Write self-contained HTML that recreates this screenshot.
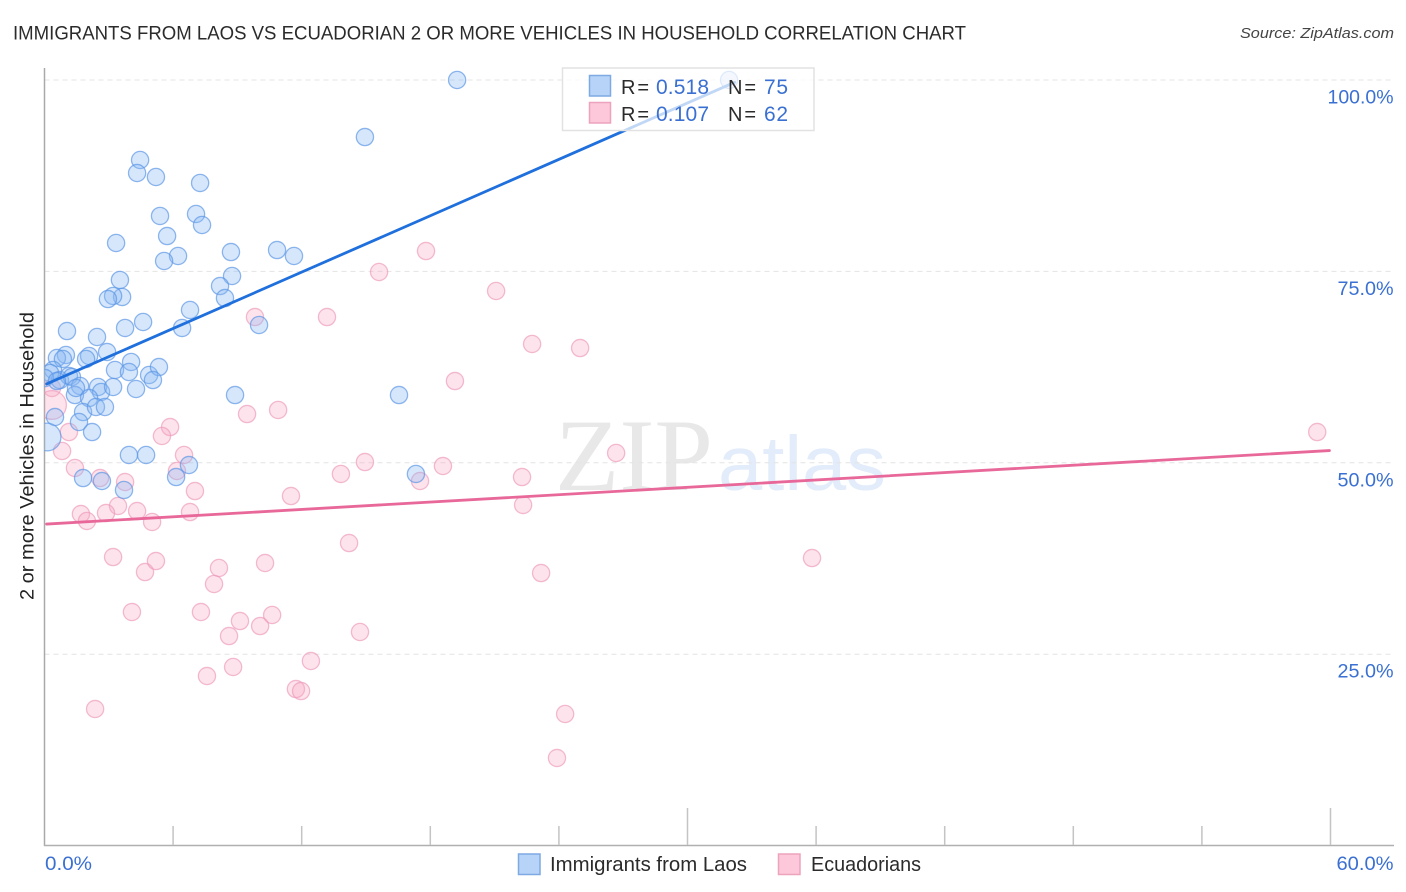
<!DOCTYPE html>
<html lang="en">
<head>
<meta charset="utf-8">
<title>Immigrants from Laos vs Ecuadorian 2 or more Vehicles in Household Correlation Chart</title>
<style>
html,body{margin:0;padding:0;background:#fff;width:1406px;height:892px;overflow:hidden}
svg{display:block}
text{font-family:"Liberation Sans",sans-serif}
</style>
</head>
<body>
<svg id="chart" xmlns="http://www.w3.org/2000/svg" width="1406" height="892" viewBox="0 0 1406 892">
  <defs><clipPath id="plot-clip"><rect x="44.5" y="60" width="1350" height="785"/></clipPath></defs>
  <text x="13" y="39.5" font-size="19.5" fill="#2b2b2b" textLength="953" lengthAdjust="spacingAndGlyphs">IMMIGRANTS FROM LAOS VS ECUADORIAN 2 OR MORE VEHICLES IN HOUSEHOLD CORRELATION CHART</text>
  <text x="1394" y="38" font-size="15" font-style="italic" fill="#444" text-anchor="end" textLength="154" lengthAdjust="spacingAndGlyphs">Source: ZipAtlas.com</text>
  <g>
    <text x="555" y="490" font-size="103" font-weight="400" fill="#e8e8e8" textLength="158" lengthAdjust="spacingAndGlyphs" style="font-family:'Liberation Serif',serif">ZIP</text>
    <text x="718" y="490" font-size="77" fill="#e2ecfa" textLength="168" lengthAdjust="spacingAndGlyphs">atlas</text>
  </g>
  <g id="grid"></g>
  <g id="axes"></g>
  <g clip-path="url(#plot-clip)">
    <g id="pink-points"></g>
    <g id="blue-points"></g>
    <g id="trend-lines"></g>
  </g>
  <g id="tick-labels"></g>
  <text transform="translate(33.5,456) rotate(-90)" font-size="19" fill="#222" text-anchor="middle" textLength="288" lengthAdjust="spacingAndGlyphs">2 or more Vehicles in Household</text>

  <g>
    <rect x="562.5" y="68" width="251.5" height="62.5" fill="#fff" fill-opacity="0.72" stroke="#e2e2e2" stroke-width="1.5"/>
    <rect x="589.5" y="75.5" width="21" height="20.5" fill="#b7d4f8" stroke="#7fa9e2" stroke-width="1.5"/>
    <rect x="589.5" y="102.5" width="21" height="20.5" fill="#fcc8da" stroke="#eda3bd" stroke-width="1.5"/>
    <text x="621" y="94" font-size="20" fill="#2b2b2b" textLength="28" lengthAdjust="spacing">R =</text>
    <text x="656" y="94" font-size="21" fill="#3a70d2" textLength="53">0.518</text>
    <text x="728" y="94" font-size="20" fill="#2b2b2b" textLength="28" lengthAdjust="spacing">N =</text>
    <text x="764" y="94" font-size="21" fill="#3a70d2" textLength="24">75</text>
    <text x="621" y="121" font-size="20" fill="#2b2b2b" textLength="28" lengthAdjust="spacing">R =</text>
    <text x="656" y="121" font-size="21" fill="#3a70d2" textLength="53">0.107</text>
    <text x="728" y="121" font-size="20" fill="#2b2b2b" textLength="28" lengthAdjust="spacing">N =</text>
    <text x="764" y="121" font-size="21" fill="#3a70d2" textLength="24">62</text>
  </g>

  <g>
    <rect x="518.5" y="854" width="21.5" height="20.5" fill="#b7d4f8" stroke="#7fa9e2" stroke-width="1.5"/>
    <text x="550" y="871" font-size="20" fill="#2b2b2b" textLength="197" lengthAdjust="spacingAndGlyphs">Immigrants from Laos</text>
    <rect x="778.5" y="854" width="21.5" height="20.5" fill="#fcc8da" stroke="#eda3bd" stroke-width="1.5"/>
    <text x="811" y="871" font-size="20" fill="#2b2b2b" textLength="110" lengthAdjust="spacingAndGlyphs">Ecuadorians</text>
  </g>
</svg>
<script>
const blueX = [19.25,31.94,14.95,4.46,4.32,5.20,7.26,5.39,7.07,7.35,5.72,3.34,8.70,10.85,11.64,6.23,5.58,8.75,3.52,8.19,8.42,3.62,3.20,2.96,6.79,4.60,3.76,6.42,10.01,1.05,2.45,1.00,0.58,0.86,2.08,1.94,2.92,0.40,0.26,0.72,1.14,1.28,1.66,1.42,1.47,2.50,2.64,3.20,3.29,4.04,3.94,4.27,4.88,5.34,5.06,2.08,1.80,2.40,2.82,0.49,1.61,2.22,0.12,8.89,16.54,3.94,4.74,6.74,6.14,1.80,2.68,3.71,17.33,0.02,0.58];
const blueY = [100,100,92.55,89.55,87.85,87.33,86.55,82.24,82.50,81.06,79.62,78.71,77.53,77.79,77.01,77.01,76.36,74.40,73.88,73.09,71.52,71.66,71.79,71.39,69.96,68.39,67.61,67.61,68.00,67.21,66.43,64.08,63.69,63.56,63.95,63.56,64.47,62.12,61.73,60.81,61.34,61.21,60.03,58.85,59.77,59.90,59.25,59.90,62.12,63.17,61.86,59.64,61.47,62.51,60.81,58.46,56.63,57.29,57.29,55.98,55.33,54.02,53.37,58.85,58.85,51.02,51.02,49.71,48.14,48.01,47.62,46.45,48.54,61.07,60.68];
const blueWeight = {62: 2.6};
const pinkX = [59.38,17.80,15.61,21.07,13.18,9.82,22.75,24.99,19.15,9.45,10.90,5.86,5.48,6.51,6.18,7.02,6.79,1.14,0.82,1.42,2.59,3.76,3.43,4.32,2.87,1.70,1.98,5.02,3.20,4.69,5.20,4.08,8.14,7.91,7.30,10.29,14.21,8.61,9.12,10.62,10.06,8.80,7.58,12.43,14.72,11.73,11.97,2.36,24.29,23.91,35.81,23.17,22.33,22.28,26.67,18.59,17.52,14.95,13.83,11.50,0.35,0.35];
const pinkY = [54.02,77.66,74.92,72.44,69.04,69.04,65.52,64.99,60.68,56.37,56.90,54.67,53.50,51.02,48.93,46.31,43.57,54.02,51.54,49.32,48.01,47.49,44.36,43.70,43.44,43.31,42.40,42.27,37.69,35.73,37.17,30.51,36.26,34.17,30.51,36.91,39.52,27.37,29.33,30.12,28.68,23.33,22.15,24.11,27.90,20.45,20.19,17.84,17.19,11.44,37.56,35.60,44.49,48.14,51.28,49.58,47.62,50.10,48.54,45.66,59.77,57.55];
const pinkWeight = {61: 2.8};
const blueTrendX = [0.1, 32.2];
const blueTrendY = [60.3, 99.7];
const pinkTrendX = [0.1, 59.95];
const pinkTrendY = [42.0, 51.6];
const xTicks = [0,6,12,18,24,30,36,42,48,54,60];
const xMajorTicks = [30,60];
const xTickLabels = ["0.0%","60.0%"];
const yTicks = [25,50,75,100];
const yTickLabels = ["25.0%","50.0%","75.0%","100.0%"];

const NS = 'http://www.w3.org/2000/svg';
function xScale(v){ return 44.5 + v * (1286 / 60); }
function yScale(v){ return 80 + (100 - v) * (765.6 / 100); }
function labelWidth(s){ return s.length >= 6 ? 66 : (s.length === 5 ? 56 : 47); }
function make(tag, attrs, parent){
  const el = document.createElementNS(NS, tag);
  for (const k in attrs) el.setAttribute(k, attrs[k]);
  parent.appendChild(el);
  return el;
}
const gridG = document.getElementById('grid');
const axesG = document.getElementById('axes');
const labelsG = document.getElementById('tick-labels');

yTicks.forEach(function(t, i){
  const line = make('line', {x1:44.5, x2:1394, y1:yScale(t), y2:yScale(t), stroke:'#e4e4e4', 'stroke-width':1, 'stroke-dasharray':'5 4'}, gridG);
  
  
  const label = make('text', {x:1393.5, y:yScale(t) + 23.5, 'font-size':19, fill:'#3a70d2', 'text-anchor':'end', textLength:labelWidth(yTickLabels[i]), lengthAdjust:'spacingAndGlyphs'}, labelsG);
  label.textContent = yTickLabels[i];
  
  
});

const yAxis = make('line', {x1:44.5, x2:44.5, y1:68, y2:846, stroke:'#a9a9a9', 'stroke-width':1.5}, axesG);


const xAxis = make('line', {x1:44, x2:1394, y1:845.5, y2:845.5, stroke:'#b0b0b0', 'stroke-width':1.5}, axesG);


xTicks.forEach(function(t){
  if (t === 0) return;
  const top = xMajorTicks.indexOf(t) >= 0 ? 808 : 826;
  const tick = make('line', {x1:xScale(t), x2:xScale(t), y1:top, y2:845, stroke:'#c4c4c4', 'stroke-width':1.5}, axesG);
  
  
});
const x0Label = make('text', {x:45, y:870, 'font-size':19, fill:'#3a70d2', textLength:47, lengthAdjust:'spacingAndGlyphs'}, labelsG);
x0Label.textContent = xTickLabels[0];


const x1Label = make('text', {x:1393.5, y:870, 'font-size':19, fill:'#3a70d2', 'text-anchor':'end', textLength:57, lengthAdjust:'spacingAndGlyphs'}, labelsG);
x1Label.textContent = xTickLabels[1];



const pinkG = document.getElementById('pink-points');
pinkX.forEach(function(v, i){
  const c = make('circle', {cx:xScale(v), cy:yScale(pinkY[i]), r:8.6 * (pinkWeight[i] ? Math.sqrt(pinkWeight[i]) : 1), fill:'#f9a8c4', 'fill-opacity':0.32, stroke:'#ec98b8', 'stroke-opacity':0.65, 'stroke-width':1.3}, pinkG);
  
  
});
const blueG = document.getElementById('blue-points');
blueX.forEach(function(v, i){
  const c = make('circle', {cx:xScale(v), cy:yScale(blueY[i]), r:8.6 * (blueWeight[i] ? Math.sqrt(blueWeight[i]) : 1), fill:'#8ab8f2', 'fill-opacity':0.34, stroke:'#5a95e4', 'stroke-opacity':0.68, 'stroke-width':1.3}, blueG);
  
  
});
const linesG = document.getElementById('trend-lines');
const blueLine = make('line', {x1:xScale(blueTrendX[0]), y1:yScale(blueTrendY[0]), x2:xScale(blueTrendX[1]), y2:yScale(blueTrendY[1]), stroke:'#1f6fdc', 'stroke-width':2.8, 'stroke-linecap':'round'}, linesG);


const pinkLine = make('line', {x1:xScale(pinkTrendX[0]), y1:yScale(pinkTrendY[0]), x2:xScale(pinkTrendX[1]), y2:yScale(pinkTrendY[1]), stroke:'#e8689a', 'stroke-width':2.8, 'stroke-linecap':'round'}, linesG);


</script>
</body>
</html>
